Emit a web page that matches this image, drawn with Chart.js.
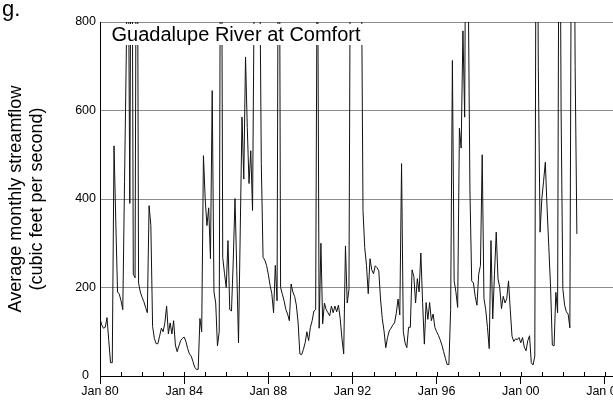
<!DOCTYPE html>
<html>
<head>
<meta charset="utf-8">
<script src="https://cdn.jsdelivr.net/npm/chart.js@4.4.1/dist/chart.umd.min.js"></script>
<style>
  body { margin: 0; background: #fff; }
  #wrap { width: 613px; height: 407px; }
</style>
</head>
<body>
<div id="wrap"><canvas id="flowChart" width="613" height="407"></canvas></div>
<script>
// Guadalupe River at Comfort: average monthly streamflow (cfs), one value per month from Jan 1980
var stationName = 'Guadalupe River at Comfort';
var panelLetter = 'g.';

var flow1980s = [
  130, 115, 108, 110, 132, 80, 30, 30, 520, 350, 190, 185,      // 1980
  170, 150, 440, 730, 1100, 390, 1400, 230, 222, 1500, 210, 190, // 1981
  178, 168, 155, 143, 385, 340, 112, 85, 73, 73, 90, 108,        // 1982
  100, 120, 158, 95, 120, 95, 125, 70, 55, 68, 80, 85,           // 1983
  88, 78, 62, 50, 45, 33, 20, 15, 15, 130, 100, 498,             // 1984
  400, 340, 380, 265, 645, 190, 165, 68, 100, 1500, 268, 232,    // 1985
  200, 306, 150, 147, 260, 401, 240, 75, 330, 585, 445, 721,     // 1986
  562, 435, 509, 374, 900, 1800, 1500, 1000, 480, 268, 262, 250, // 1987
  230, 205, 186, 143, 250, 170, 1500, 200, 185, 170, 150, 140,   // 1988
  125, 208, 190, 180, 160, 120, 50, 48, 60, 75, 100, 80          // 1989
];
var flow1990s = [
  110, 125, 147, 150, 1100, 108, 300, 118, 165, 150, 143, 136,   // 1990
  158, 143, 158, 145, 160, 130, 85, 50, 294, 165, 195, 1200,     // 1991
  1800, 2000, 1600, 1300, 1100, 1000, 374, 290, 250, 186, 265, 240, // 1992
  231, 249, 245, 238, 174, 130, 102, 64, 87, 102, 108, 115,      // 1993
  120, 142, 174, 138, 480, 100, 75, 64, 110, 110, 240, 225,      // 1994
  165, 220, 190, 278, 166, 72, 166, 128, 166, 125, 140, 110,     // 1995
  100, 92, 82, 70, 55, 40, 26, 26, 150, 713, 215, 190,           // 1996
  155, 560, 515, 780, 585, 1400, 900, 420, 215, 210, 180, 160,   // 1997
  230, 250, 500, 175, 150, 110, 62, 306, 129, 230, 325, 220,     // 1998
  200, 152, 180, 165, 175, 215, 150, 90, 78, 84, 82, 87          // 1999
];
var flow2000s = [
  75, 87, 65, 57, 80, 91, 30, 25, 45, 1500, 700, 325,            // 2000
  400, 440, 483, 380, 290, 200, 70, 68, 189, 143, 1400, 600,     // 2001
  197, 160, 145, 140, 109, 1200, 1500, 700, 321                  // 2002
];

// x axis: months since Jan 1980, labelled every four years
var labelMonths = [0, 48, 96, 144, 192, 240, 288];
var labelText = ['Jan 80', 'Jan 84', 'Jan 88', 'Jan 92', 'Jan 96', 'Jan 00', 'Jan 04'];
var yTicks = [0, 200, 400, 600, 800];

var flow = flow1980s.concat(flow1990s, flow2000s);
var points = flow.map(function (v, i) { return { x: i, y: v }; });

Chart.defaults.font.family = '"Liberation Sans", Arial, Helvetica, sans-serif';
Chart.defaults.color = '#000';

// white box with station name, inward tick stubs and the panel letter
var extras = {
  id: 'extras',
  afterDatasetsDraw: function (chart) {
    var c = chart.ctx;
    c.save();
    c.fillStyle = '#fff';
    c.fillRect(105, 24, 260, 21);
    c.fillStyle = '#000';
    c.font = '20px "Liberation Sans", Arial, sans-serif';
    c.textBaseline = 'alphabetic';
    c.fillText(stationName, 111.5, 40.5);
    c.restore();
  },
  afterDraw: function (chart) {
    var c = chart.ctx;
    var xs = chart.scales.x;
    var bottom = chart.chartArea.bottom;
    c.save();
    c.strokeStyle = '#000';
    c.lineWidth = 1;
    c.beginPath();
    xs.ticks.forEach(function (t) {
      if (t.value % 12 !== 0) return;
      var px = Math.round(xs.getPixelForValue(t.value)) + 0.5;
      c.moveTo(px, bottom);
      c.lineTo(px, bottom - 4);
    });
    c.stroke();
    c.font = '22px "Liberation Sans", Arial, sans-serif';
    c.fillStyle = '#000';
    c.fillText(panelLetter, 2, 16);
    c.restore();
  }
};

new Chart(document.getElementById('flowChart').getContext('2d'), {
  type: 'line',
  data: {
    datasets: [{
      data: points,
      borderColor: '#111',
      borderWidth: 1,
      pointRadius: 0,
      tension: 0,
      fill: false,
      clip: 0
    }]
  },
  options: {
    responsive: false,
    animation: false,
    layout: { padding: { left: 0, right: 0, top: 22, bottom: 0 } },
    plugins: { legend: { display: false }, tooltip: { enabled: false } },
    scales: {
      x: {
        type: 'linear',
        min: 0,
        max: 292.6,
        grid: {
          drawOnChartArea: false,
          drawTicks: true,
          tickLength: 8,
          tickColor: function (ctx) {
            return ctx.tick && labelMonths.indexOf(ctx.tick.value) >= 0 ? '#000' : 'rgba(0,0,0,0)';
          }
        },
        border: { color: '#000', width: 1 },
        ticks: {
          stepSize: 12,
          includeBounds: false,
          autoSkip: false,
          maxRotation: 0,
          padding: 0,
          font: { size: 12.5 },
          callback: function (v) {
            var k = labelMonths.indexOf(v);
            return k >= 0 ? labelText[k] : '';
          }
        },
        afterFit: function (s) { s.height = 31; s.paddingLeft = 0; s.paddingRight = 0; }
      },
      y: {
        min: 0,
        max: 800,
        afterBuildTicks: function (s) { s.ticks = yTicks.map(function (v) { return { value: v }; }); },
        grid: { color: '#8c8c8c', lineWidth: 1, drawTicks: false },
        border: { color: '#000', width: 1 },
        ticks: { padding: 4, crossAlign: 'center', font: { size: 12.5 } },
        title: {
          display: true,
          text: ['Average monthly streamflow', '(cubic feet per second)'],
          font: { size: 18, lineHeight: 1.17 },
          padding: { top: 5.5, bottom: 0 }
        },
        afterFit: function (s) { s.width = 100; }
      }
    }
  },
  plugins: [extras]
});
</script>
</body>
</html>
